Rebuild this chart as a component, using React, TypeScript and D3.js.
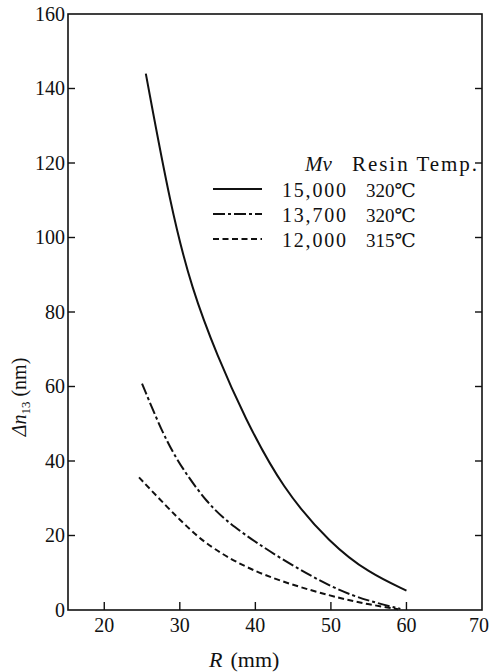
import React from "react";
import * as d3 from "d3";

const R_solid = [25.5, 28.8, 31.6, 35.0, 38.5, 43.6, 50.0, 55.0, 60.0];
const V_solid = [144, 108, 86, 68, 52, 32.5, 17.7, 10, 5.2];

const R_dashdot = [25.0, 27.9, 30.3, 33.6, 36.7, 43.4, 50.5, 55.0, 59.2];
const V_dashdot = [60.8, 46.5, 38.0, 28.8, 22.8, 13.6, 5.6, 2.4, 0.3];

const R_dashed = [24.6, 28.3, 30.8, 34.1, 40.7, 50.5, 55.0, 58.9];
const V_dashed = [35.6, 27.7, 22.6, 16.6, 9.2, 3.4, 1.5, 0.2];

const legendMv = ["15,000", "13,700", "12,000"];
const legendTemp = ["320℃", "320℃", "315℃"];
const xTicks = [20, 30, 40, 50, 60, 70];
const yTicks = [0, 20, 40, 60, 80, 100, 120, 140, 160];

const W = 490;
const H = 672;
const FONT = "'Times New Roman', 'Liberation Serif', 'DejaVu Serif', 'Noto Serif', Times, serif";

export default function App() {
  const x = d3.scaleLinear().domain([15.2, 70]).range([68, 482]);
  const y = d3.scaleLinear().domain([0, 160]).range([610, 14]);
  const line = d3
    .line<[number, number]>()
    .x((d) => x(d[0]))
    .y((d) => y(d[1]))
    .curve(d3.curveBasis);

  const series = [
    { r: R_solid, v: V_solid, dash: "none" },
    { r: R_dashdot, v: V_dashdot, dash: "12 3 3 3" },
    { r: R_dashed, v: V_dashed, dash: "6 3.5" },
  ];

  const x0 = x.range()[0];
  const x1 = x.range()[1];
  const y0 = y.range()[0];
  const y1 = y.range()[1];

  const legY = [189, 214, 239];
  const tstyle = { fontFamily: FONT };

  return (
    <svg
      width={W}
      height={H}
      style={{ position: "absolute", left: 0, top: 0, background: "#fff", fontFamily: FONT }}
    >
      <rect x={0} y={0} width={W} height={H} fill="#fff" />
      <rect
        x={x0}
        y={y1}
        width={x1 - x0}
        height={y0 - y1}
        fill="none"
        stroke="#111"
        strokeWidth={1.6}
      />
      {yTicks
        .filter((t) => t > 0 && t < 160)
        .map((t) => (
          <g key={"yt" + t}>
            <line x1={x0} x2={x0 + 7} y1={y(t)} y2={y(t)} stroke="#111" strokeWidth={1.4} />
            <line x1={x1} x2={x1 - 7} y1={y(t)} y2={y(t)} stroke="#111" strokeWidth={1.4} />
          </g>
        ))}
      {yTicks.map((t) => (
        <text
          key={"yl" + t}
          x={x0 - 3}
          y={y(t) + 6.5}
          textAnchor="end"
          fontSize={20}
          fill="#111"
          style={tstyle}
        >
          {t}
        </text>
      ))}
      {xTicks
        .filter((t) => t < 70)
        .map((t) => (
          <line
            key={"xt" + t}
            x1={x(t)}
            x2={x(t)}
            y1={y0}
            y2={y0 - 8}
            stroke="#111"
            strokeWidth={1.4}
          />
        ))}
      {xTicks.map((t) => (
        <text
          key={"xl" + t}
          x={t === 70 ? x(t) - 3 : x(t)}
          y={632}
          textAnchor="middle"
          fontSize={20}
          fill="#111"
          style={tstyle}
        >
          {t}
        </text>
      ))}
      {series.map((s, i) => (
        <path
          key={"s" + i}
          d={line(s.r.map((r, j) => [r, s.v[j]] as [number, number])) || ""}
          fill="none"
          stroke="#111"
          strokeWidth={2}
          strokeDasharray={s.dash}
        />
      ))}
      <text x={305} y={171} fontSize={21} fontStyle="italic" fill="#111" style={tstyle}>
        Mv
      </text>
      <text
        x={352}
        y={171}
        fontSize={21}
        fill="#111"
        style={tstyle}
        textLength={125}
        lengthAdjust="spacing"
      >
        Resin Temp.
      </text>
      {series.map((s, i) => (
        <g key={"lg" + i}>
          <line
            x1={213}
            x2={262}
            y1={legY[i]}
            y2={legY[i]}
            stroke="#111"
            strokeWidth={2}
            strokeDasharray={s.dash}
          />
          <text
            x={282}
            y={legY[i] + 8}
            fontSize={20}
            fill="#111"
            style={tstyle}
            textLength={64}
            lengthAdjust="spacing"
          >
            {legendMv[i]}
          </text>
          <text x={366} y={legY[i] + 8} fontSize={19} fill="#111" style={tstyle}>
            {legendTemp[i]}
          </text>
        </g>
      ))}
      <text x={209} y={667} fontSize={22} fill="#111" style={tstyle}>
        <tspan fontStyle="italic">R</tspan>
        <tspan dx={8}>(mm)</tspan>
      </text>
      <text
        transform={`translate(26, 397) rotate(-90)`}
        textAnchor="middle"
        fontSize={20}
        fill="#111"
        style={tstyle}
      >
        <tspan fontStyle="italic">Δn</tspan>
        <tspan fontSize={13} dy={4}>13</tspan>
        <tspan dy={-4}> (nm)</tspan>
      </text>
    </svg>
  );
}
